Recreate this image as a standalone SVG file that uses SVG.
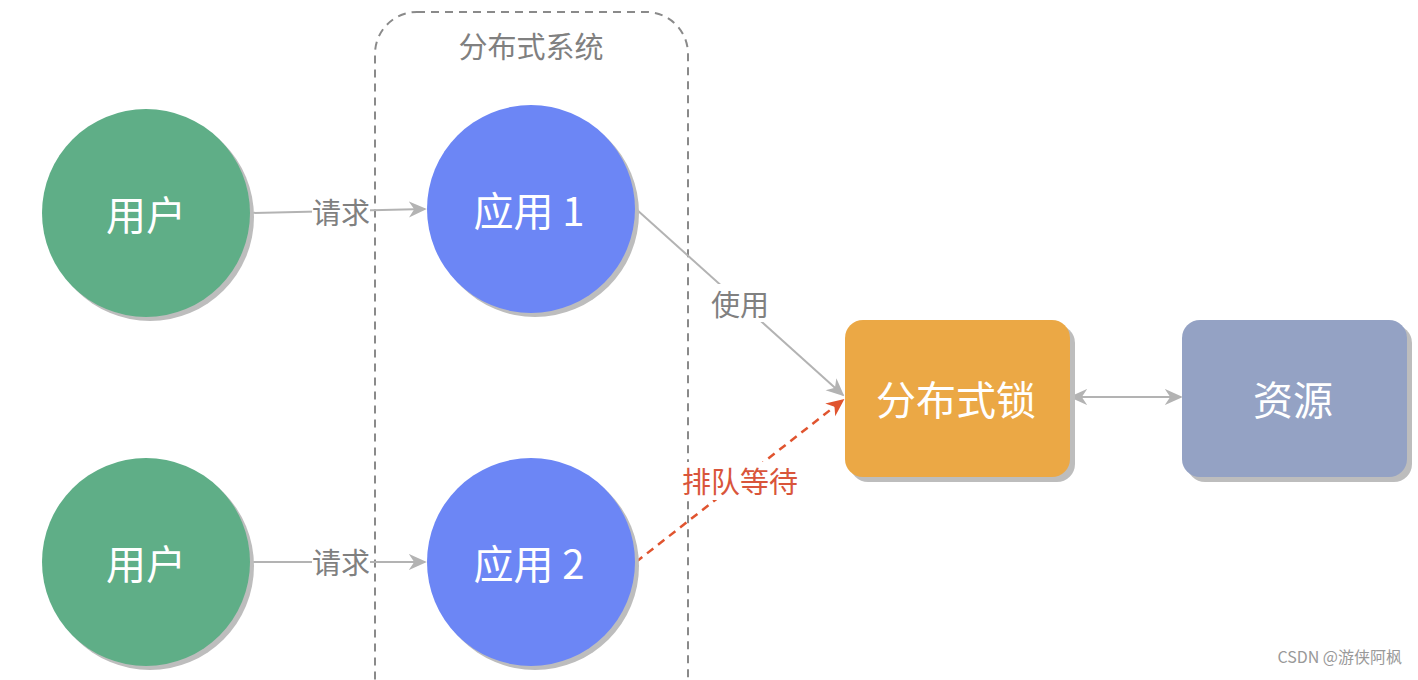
<svg xmlns="http://www.w3.org/2000/svg" width="1418" height="680" viewBox="0 0 1418 680">
<style>
text{font-family:"Noto Sans CJK SC","Liberation Sans",sans-serif;}
.nl{fill:#fff;font-size:40px;text-anchor:middle;dominant-baseline:central;}
.el{fill:#808080;font-size:29px;text-anchor:middle;dominant-baseline:central;}
.sh{fill:#bdbdbd;}
.ln{stroke:#b3b3b3;stroke-width:2;fill:none;}
</style>
<defs>
<marker id="ag" viewBox="0 0 20 20" refX="18" refY="10" markerWidth="18" markerHeight="18" markerUnits="userSpaceOnUse" orient="auto-start-reverse">
<path d="M0,1 L20,10 L0,19 L6,10 Z" fill="#b3b3b3"/>
</marker>
<marker id="ar" viewBox="0 0 20 20" refX="18" refY="10" markerWidth="18" markerHeight="18" markerUnits="userSpaceOnUse" orient="auto">
<path d="M0,1 L20,10 L0,19 L6,10 Z" fill="#e0542f"/>
</marker>
</defs>
<rect width="1418" height="680" fill="#fff"/>
<g id="container">
<rect x="375" y="12" width="313" height="720" rx="42" fill="none" stroke="#8a8a8a" stroke-width="2" stroke-dasharray="8,6"/>
<text x="531" y="45" class="el" font-size="30">分布式系统</text>
</g>
<g id="connectors">
<line class="ln" x1="250" y1="213" x2="425" y2="209" marker-end="url(#ag)"/>
<line class="ln" x1="250" y1="562" x2="425" y2="562" marker-end="url(#ag)"/>
<line class="ln" x1="636" y1="209" x2="843" y2="395" marker-end="url(#ag)"/>
<line x1="636" y1="562" x2="843" y2="400" stroke="#e0542f" stroke-width="2.5" stroke-dasharray="8,6" marker-end="url(#ar)"/>
<line class="ln" x1="1071" y1="397" x2="1181" y2="397" marker-start="url(#ag)" marker-end="url(#ag)"/>
<rect x="312" y="194" width="58" height="34" fill="#fff"/>
<text x="341" y="211" class="el">请求</text>
<rect x="312" y="545" width="58" height="34" fill="#fff"/>
<text x="341" y="561" class="el">请求</text>
<rect x="707" y="284" width="66" height="38" fill="#fff"/>
<text x="740" y="303" class="el">使用</text>
<rect x="676" y="462" width="130" height="38" fill="#fff"/>
<text x="740" y="480" class="el" style="fill:#d9553b">排队等待</text>
</g>
<g id="user1">
<circle cx="150" cy="217" r="104" class="sh"/>
<circle cx="146" cy="213" r="104" fill="#5fae87"/>
<text x="146" y="213" class="nl">用户</text>
</g>
<g id="user2">
<circle cx="150" cy="566" r="104" class="sh"/>
<circle cx="146" cy="562" r="104" fill="#5fae87"/>
<text x="146" y="562" class="nl">用户</text>
</g>
<g id="app1">
<circle cx="535" cy="213" r="104" class="sh"/>
<circle cx="531" cy="209" r="104" fill="#6c86f5"/>
<text x="529" y="209" class="nl">应用 1</text>
</g>
<g id="app2">
<circle cx="535" cy="566" r="104" class="sh"/>
<circle cx="531" cy="562" r="104" fill="#6c86f5"/>
<text x="529" y="562" class="nl">应用 2</text>
</g>
<g id="lock">
<rect x="850" y="325" width="225" height="157" rx="18" class="sh"/>
<rect x="845" y="320" width="225" height="157" rx="18" fill="#eba845"/>
<text x="956" y="398" class="nl" font-size="42">分布式锁</text>
</g>
<g id="resource">
<rect x="1187" y="325" width="225" height="157" rx="18" class="sh"/>
<rect x="1182" y="320" width="225" height="157" rx="18" fill="#94a2c4"/>
<text x="1293" y="398" class="nl" font-size="42">资源</text>
</g>
<text x="1402" y="663" font-size="16" fill="#999" text-anchor="end">CSDN @游侠阿枫</text>
</svg>
